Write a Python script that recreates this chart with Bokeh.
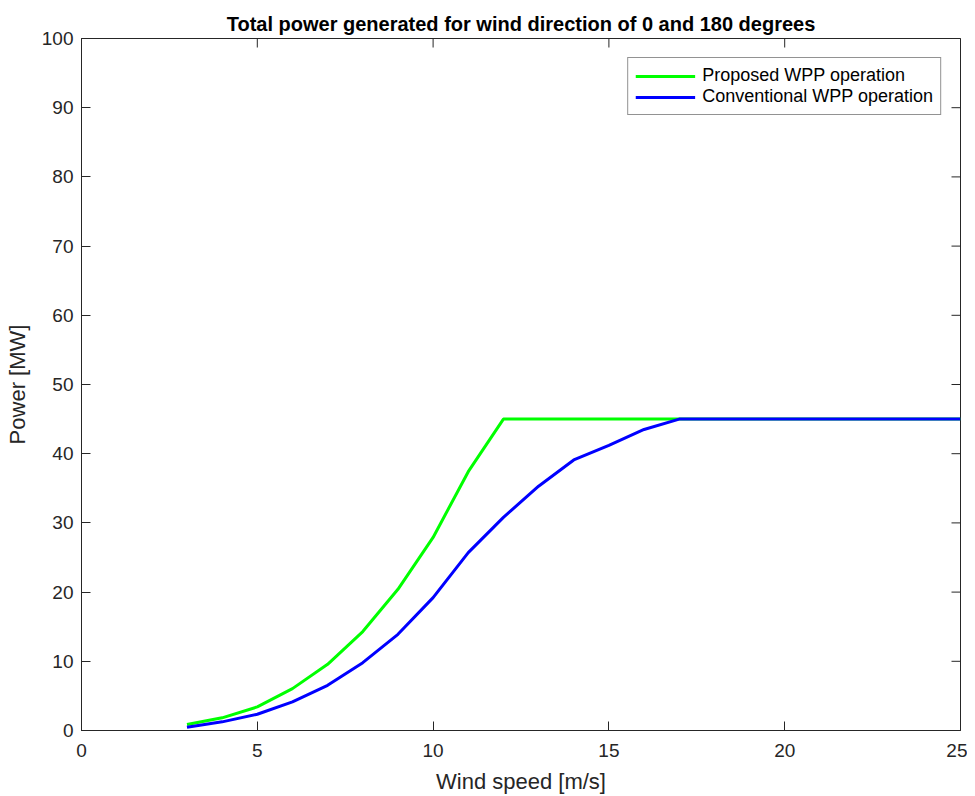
import math
from bokeh.plotting import figure
from bokeh.models import FixedTicker, Legend, LegendItem, Range1d, Title
from bokeh.embed import file_html
from bokeh.resources import INLINE

wind_speed = [3, 4, 5, 6, 7, 8, 9, 10, 11, 12, 13, 14, 15, 16, 17, 18, 19, 20, 21, 22, 23, 24, 25]
proposed = [0.86, 1.83, 3.41, 6.05, 9.56, 14.3, 20.4, 27.9, 37.4, 45.0, 45.0, 45.0, 45.0, 45.0, 45.0,
            45.0, 45.0, 45.0, 45.0, 45.0, 45.0, 45.0, 45.0]
conventional = [0.48, 1.25, 2.35, 4.13, 6.53, 9.8, 13.9, 19.2, 25.7, 30.8, 35.3, 39.1, 41.2, 43.5, 45.0,
                45.0, 45.0, 45.0, 45.0, 45.0, 45.0, 45.0, 45.0]
x_ticks = [0, 5, 10, 15, 20, 25]
y_ticks = [0, 10, 20, 30, 40, 50, 60, 70, 80, 90, 100]

AX = "#262626"
FONT = "Liberation Sans"
X_MIN, X_MAX = x_ticks[0], x_ticks[-1]
Y_MIN, Y_MAX = y_ticks[0], y_ticks[-1]

p = figure(width=967, height=796, output_backend="svg", toolbar_location=None,
           x_range=Range1d(X_MIN, X_MAX), y_range=Range1d(Y_MIN, Y_MAX),
           min_border_left=81, min_border_right=7, min_border_top=38, min_border_bottom=64)
p.title = Title(text="Total power generated for wind direction of 0 and 180 degrees",
                align="center", text_font=FONT, text_font_size="20px", text_font_style="bold",
                text_color="black", standoff=8, offset=0)

p.xgrid.visible = False
p.ygrid.visible = False
p.outline_line_color = AX
p.outline_line_width = 1
p.outline_line_alpha = 1


def style_axis(ax):
    ax.axis_line_color = AX
    ax.major_tick_line_color = AX
    ax.major_tick_in = 9
    ax.major_tick_out = 0
    ax.minor_tick_line_color = None
    ax.major_label_text_font = FONT
    ax.major_label_text_font_size = "19px"
    ax.major_label_text_color = AX
    ax.axis_label_text_font = FONT
    ax.axis_label_text_font_size = "22px"
    ax.axis_label_text_font_style = "normal"
    ax.axis_label_text_color = AX


xa = p.xaxis[0]
xa.ticker = FixedTicker(ticks=x_ticks)
xa.axis_label = "Wind speed [m/s]"
style_axis(xa)
xa.major_label_standoff = 13
xa.axis_label_standoff = 9

ya = p.yaxis[0]
ya.ticker = FixedTicker(ticks=y_ticks)
ya.axis_label = "Power [MW]"
style_axis(ya)
ya.major_label_standoff = 8
ya.axis_label_standoff = 9

# box ticks on top and right edges (half of each dash is clipped by the frame)
p.scatter(x_ticks, [Y_MAX] * len(x_ticks), marker="dash", size=18, angle=math.pi / 2,
          line_color=AX, line_width=1)
p.scatter([X_MAX] * len(y_ticks), y_ticks, marker="dash", size=18, angle=0,
          line_color=AX, line_width=1)

r1 = p.line(wind_speed, proposed, line_color="#00ff00", line_width=3)
r2 = p.line(wind_speed, conventional, line_color="#0000ff", line_width=3)

legend = Legend(items=[LegendItem(label="Proposed WPP operation", renderers=[r1]),
                       LegendItem(label="Conventional WPP operation", renderers=[r2])],
                location="top_right")
legend.margin = 19
legend.padding = 7
legend.spacing = 0
legend.glyph_width = 60
legend.glyph_height = 20
legend.label_text_font = FONT
legend.label_text_font_size = "18px"
legend.label_text_color = "black"
legend.label_standoff = 7
legend.border_line_color = AX
legend.border_line_width = 1
legend.background_fill_color = "white"
legend.background_fill_alpha = 1
p.add_layout(legend, "center")

open("out.html", "w").write(file_html(p, INLINE))
